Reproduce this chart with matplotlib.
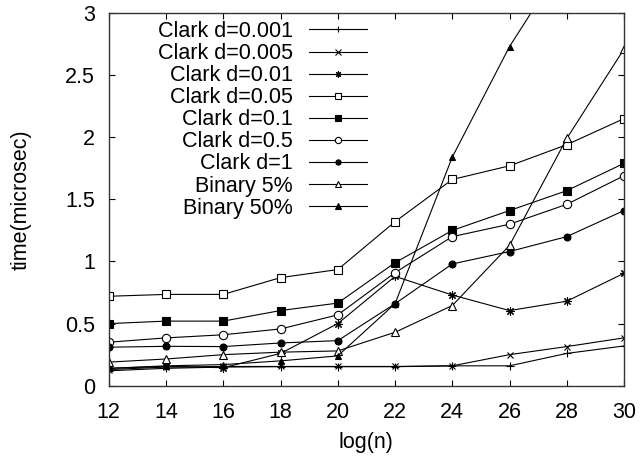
import numpy as np
import matplotlib
matplotlib.use('Agg')
import matplotlib.pyplot as plt

plt.rcParams['font.family'] = ['Liberation Sans', 'DejaVu Sans']

# log(n) values
logn = [12, 14, 16, 18, 20, 22, 24, 26, 28, 30]

# time in microseconds
clark_0001 = [0.12, 0.14, 0.15, 0.153, 0.153, 0.153, 0.16, 0.16, 0.26, 0.32]
clark_0005 = [0.13, 0.15, 0.155, 0.155, 0.155, 0.155, 0.16, 0.25, 0.315, 0.385]
clark_001 = [0.14, 0.155, 0.145, 0.26, 0.50, 0.88, 0.73, 0.605, 0.68, 0.905]
clark_005 = [0.72, 0.735, 0.735, 0.87, 0.935, 1.32, 1.66, 1.77, 1.94, 2.15]
clark_01 = [0.50, 0.52, 0.52, 0.605, 0.665, 0.99, 1.25, 1.41, 1.57, 1.79]
clark_05 = [0.35, 0.385, 0.41, 0.457, 0.57, 0.91, 1.20, 1.30, 1.46, 1.69]
clark_1 = [0.31, 0.317, 0.315, 0.344, 0.363, 0.66, 0.98, 1.08, 1.20, 1.41]
binary_5 = [0.19, 0.215, 0.25, 0.27, 0.28, 0.43, 0.645, 1.13, 1.99, 2.71]
binary_50 = [0.14, 0.16, 0.17, 0.20, 0.24, 0.66, 1.84, 2.73, 3.45, 4.2]

labels = ['Clark d=0.001', 'Clark d=0.005', 'Clark d=0.01', 'Clark d=0.05',
          'Clark d=0.1', 'Clark d=0.5', 'Clark d=1', 'Binary 5%', 'Binary 50%']
series = [clark_0001, clark_0005, clark_001, clark_005, clark_01,
          clark_05, clark_1, binary_5, binary_50]
# (marker, filled, size)
styles = [('+', True, 6), ('x', True, 5), ((8, 2, 0), True, 6),
          ('s', False, 6), ('s', True, 6), ('o', False, 6), ('o', True, 5),
          ('^', False, 6), ('^', True, 5)]

fig = plt.figure(figsize=(6.4, 4.57), dpi=100)
ax = fig.add_axes([0.170, 0.156, 0.805, 0.8155])

for vals, lab, (mk, filled, ms) in zip(series, labels, styles):
    ax.plot(logn, vals, color='black', lw=0.8, marker=mk, ms=ms,
            mec='black', mew=0.8,
            mfc='black' if filled else 'white', label=lab)

ax.set_xlim(12, 30)
ax.set_ylim(0, 3)
ax.set_xticks(np.arange(12, 31, 2))
ax.set_yticks([0, 0.5, 1, 1.5, 2, 2.5, 3])
ax.set_yticklabels(['0', '0.5', '1', '1.5', '2', '2.5', '3'])
ax.tick_params(direction='in', length=4, width=0.8, top=True, right=True,
               labelsize=15.5)
ax.tick_params(axis='x', pad=11.5)
ax.tick_params(axis='y', pad=10)
for s in ax.spines.values():
    s.set_linewidth(1.0)
    s.set_color('#333333')

ax.set_xlabel('log(n)', fontsize=15.5)
ax.set_ylabel('time(microsec)', fontsize=15.5)
ax.xaxis.set_label_coords(0.5, -0.125)
ax.yaxis.set_label_coords(-0.15, 0.5)

ax.legend(loc='upper right', bbox_to_anchor=(367 / 640, 1 - 21 / 457),
          bbox_transform=fig.transFigure, frameon=False, markerfirst=False,
          fontsize=15.5, handlelength=2.7, handletextpad=0.75,
          labelspacing=0.05, borderpad=0, borderaxespad=0, markerscale=0.75)

fig.savefig('out.png', dpi=100)
